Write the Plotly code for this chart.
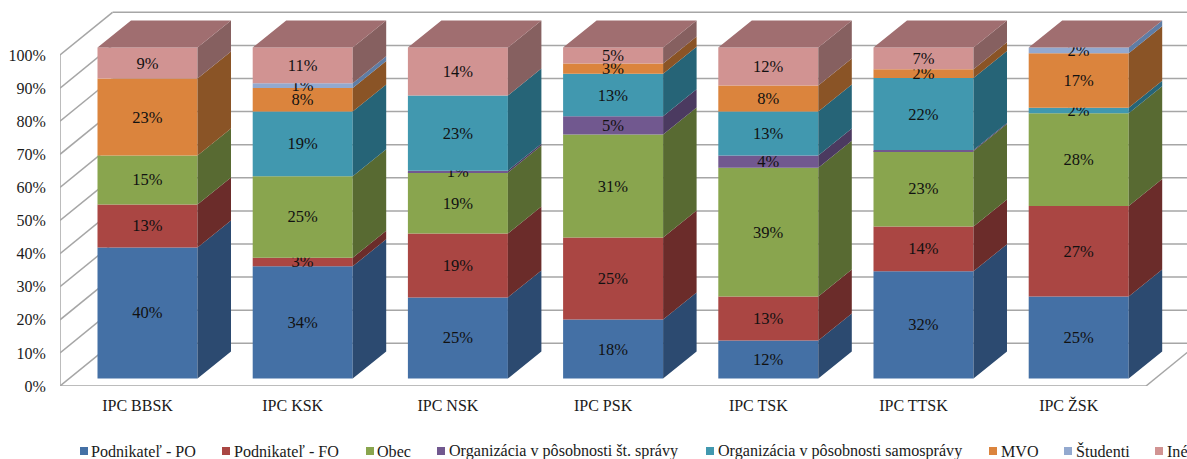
import plotly.graph_objects as go

categories = ["IPC BBSK", "IPC KSK", "IPC NSK", "IPC PSK", "IPC TSK", "IPC TTSK", "IPC ŽSK"]
series_names = ["Podnikateľ - PO", "Podnikateľ - FO", "Obec", "Organizácia v pôsobnosti št. správy",
                "Organizácia v pôsobnosti samosprávy", "MVO", "Študenti", "Iné"]

podnikatel_po = [39.6, 33.9, 24.5, 17.8, 11.5, 32.4, 24.8]
podnikatel_fo = [13.0, 2.6, 19.3, 24.8, 13.3, 13.5, 27.3]
obec = [14.8, 24.6, 18.4, 31.1, 38.9, 22.8, 28.0]
org_statna = [0, 0, 0.6, 5.5, 3.7, 0.3, 0]
org_samosprava = [0, 19.6, 22.7, 12.9, 13.3, 21.8, 1.7]
mvo = [23.2, 7.1, 0, 3.1, 7.8, 2.6, 16.5]
studenti = [0, 1.4, 0, 0, 0, 0, 1.7]
ine = [9.4, 10.8, 14.5, 4.8, 11.5, 6.6, 0]
all_values = [podnikatel_po, podnikatel_fo, obec, org_statna, org_samosprava, mvo, studenti, ine]

lab_po = ["40%", "34%", "25%", "18%", "12%", "32%", "25%"]
lab_fo = ["13%", "3%", "19%", "25%", "13%", "14%", "27%"]
lab_obec = ["15%", "25%", "19%", "31%", "39%", "23%", "28%"]
lab_stat = ["", "", "1%", "5%", "4%", "", ""]
lab_sam = ["", "19%", "23%", "13%", "13%", "22%", "2%"]
lab_mvo = ["23%", "8%", "", "3%", "8%", "2%", "17%"]
lab_stud = ["", "1%", "", "", "", "", "2%"]
lab_ine = ["9%", "11%", "14%", "5%", "12%", "7%", ""]
all_labels = [lab_po, lab_fo, lab_obec, lab_stat, lab_sam, lab_mvo, lab_stud, lab_ine]

front_colors = ["#4470A5", "#AA4643", "#89A54E", "#71588F", "#4198AF", "#DB843D", "#93A9CF", "#D19392"]
side_colors = ["#2C4A70", "#6B2C2A", "#586A32", "#4B3A60", "#266477", "#8A5426", "#5F7DA5", "#866060"]
top_color = "#A06E70"
line_color = "#A6A6A6"
FONT = "Liberation Serif"

# scale: pixels per unit
PX_X, PX_Y = 155.2, 3.31
ML, MB, W, H = 60, 73, 1187, 459
X_ZERO = 137.5           # pixel of the first category label
PLOT_H = H - MB
BAR_W = 100 / PX_X
BAR_SHIFT = 10 / PX_X
BAR_BASE = 7.5 / PX_Y
DX, DY = 33.5 / PX_X, 27 / PX_Y
WALL_DX, WALL_DY = 52.5 / PX_X, 42.7 / PX_Y
x_min, x_max = (ML - X_ZERO) / PX_X, (W - X_ZERO) / PX_X
ticks = list(range(0, 101, 10))

fig = go.Figure()
centers = [i + BAR_SHIFT for i in range(len(categories))]
cum = [BAR_BASE] * len(categories)

for s, vals in enumerate(all_values):
    fig.add_trace(go.Bar(
        x=centers, y=vals, base=list(cum), width=BAR_W, name=series_names[s],
        marker=dict(color=front_colors[s], line=dict(width=0)),
        text=all_labels[s], textposition="inside", insidetextanchor="middle",
        textangle=0, constraintext="none",
        textfont=dict(family=FONT, size=16.5, color="#111111"),
        showlegend=False))
    px_, py_ = [], []
    for i, v in enumerate(vals):
        if v <= 0:
            continue
        xr = centers[i] + BAR_W / 2
        px_ += [xr, xr + DX, xr + DX, xr, xr, None]
        py_ += [cum[i], cum[i] + DY, cum[i] + v + DY, cum[i] + v, cum[i], None]
    if px_:
        fig.add_trace(go.Scatter(x=px_, y=py_, mode="lines", fill="toself", fillcolor=side_colors[s],
                                 line=dict(width=0), hoverinfo="skip", showlegend=False))
    cum = [c + v for c, v in zip(cum, vals)]

# top faces
tx, ty = [], []
for i, c in enumerate(cum):
    xl, xr = centers[i] - BAR_W / 2, centers[i] + BAR_W / 2
    tx += [xl, xr, xr + DX, xl + DX, xl, None]
    ty += [c, c, c + DY, c + DY, c, None]
fig.add_trace(go.Scatter(x=tx, y=ty, mode="lines", fill="toself", fillcolor=top_color,
                         line=dict(width=0), hoverinfo="skip", showlegend=False))

# walls and gridlines
shapes = []
def seg(x0, y0, x1, y1):
    shapes.append(dict(type="line", xref="x", yref="y", x0=x0, y0=y0, x1=x1, y1=y1, layer="below",
                       line=dict(color=line_color, width=1.5)))
for t in ticks:
    seg(x_min, t, x_min + WALL_DX, t + WALL_DY)
    seg(x_min + WALL_DX, t + WALL_DY, x_max, t + WALL_DY)
seg(x_min, 0, x_min, 100)
floor_end = (1146 - X_ZERO) / PX_X
seg(x_min, 0, floor_end, 0)
seg(floor_end, 0, floor_end + WALL_DX, WALL_DY)

# legend row
legend_marker_px = [80, 222, 366, 437, 706, 989, 1064, 1155]
legend_text_px = [90, 233, 376, 447.5, 716.5, 999.5, 1074.5, 1165.5]
LEG_Y = 451
annotations = []
def to_px_x(p): return (p - ML) / (W - ML)
def to_py_y(p): return (PLOT_H - p) / PLOT_H
for name, col, mx, tx_ in zip(series_names, front_colors, legend_marker_px, legend_text_px):
    shapes.append(dict(type="rect", xref="paper", yref="paper", x0=to_px_x(mx), x1=to_px_x(mx + 8),
                       y0=to_py_y(LEG_Y + 4), y1=to_py_y(LEG_Y - 4), fillcolor=col, line=dict(width=0)))
    annotations.append(dict(xref="paper", yref="paper", x=to_px_x(tx_), y=to_py_y(LEG_Y), text=name,
                            xanchor="left", yanchor="middle", showarrow=False, borderpad=0,
                            font=dict(family=FONT, size=16.1, color="#1a1a1a")))

fig.update_layout(
    width=W, height=H, margin=dict(l=ML, r=0, t=0, b=MB, autoexpand=False),
    paper_bgcolor="white", plot_bgcolor="white", barmode="overlay", showlegend=False,
    xaxis=dict(range=[x_min, x_max], tickvals=list(range(len(categories))), ticktext=categories,
               showgrid=False, zeroline=False, showline=False, ticks="outside", ticklen=5,
               tickcolor="rgba(0,0,0,0)", tickfont=dict(family=FONT, size=16, color="#1a1a1a")),
    yaxis=dict(range=[0, PLOT_H / PX_Y], tickvals=ticks, ticktext=[f"{t}%" for t in ticks],
               showgrid=False, zeroline=False, showline=False, ticks="outside", ticklen=10,
               tickcolor="rgba(0,0,0,0)", tickfont=dict(family=FONT, size=16, color="#1a1a1a")),
    shapes=shapes, annotations=annotations,
)

fig.write_html("out.html", config={"displayModeBar": False},
               post_script="document.body.style.margin='0';document.body.style.overflow='hidden';")
